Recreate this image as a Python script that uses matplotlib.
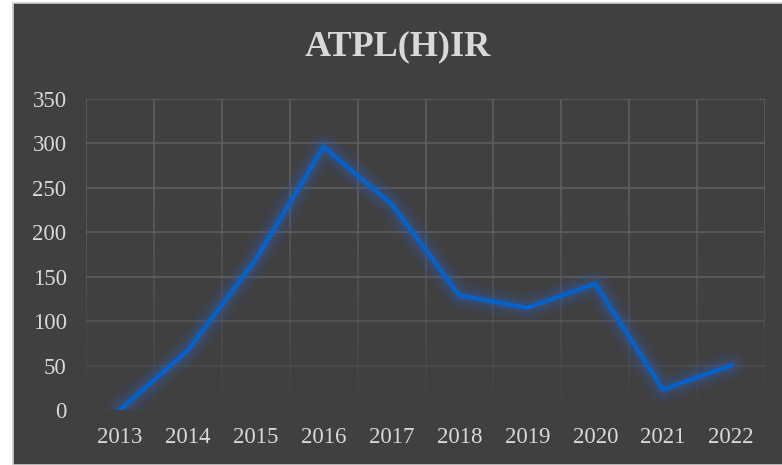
import numpy as np
import matplotlib.pyplot as plt
from matplotlib.collections import LineCollection
from matplotlib.patches import Rectangle

years = ["2013", "2014", "2015", "2016", "2017", "2018", "2019", "2020", "2021", "2022"]
counts = [0, 67, 169, 296, 232, 129, 115, 142, 23, 50]
yticks = [0, 50, 100, 150, 200, 250, 300, 350]

bg = "#404040"
grid_col = "#5e5e5e"
txt_col = "#d9d9d9"
line_col = "#0562c9"

fig = plt.figure(figsize=(7.82, 4.65), dpi=100, facecolor="white")
fig.patches.append(Rectangle((13 / 782, 0), 1, 1 - 3 / 465, transform=fig.transFigure,
                             facecolor=bg, edgecolor="#d0d0d0", linewidth=1.2, zorder=-10))

ax = fig.add_axes([86 / 782, 1 - 410 / 465, (765 - 86) / 782, (410 - 99) / 465])
ax.set_zorder(1)
ax.set_facecolor("none")
x = np.arange(len(years))
ax.set_xlim(-0.5, len(years) - 0.5)
ax.set_ylim(0, 350)

# grid that fades out toward the bottom
ymax = 350
for yv in yticks:
    a = min(1.0, 0.15 + 0.85 * yv / 150)
    ax.axhline(yv, color=grid_col, lw=1.2, alpha=a, zorder=1)
steps = np.linspace(0, ymax, 71)
for xv in np.arange(-0.5, len(years), 1.0):
    segs = [[(xv, steps[i]), (xv, steps[i + 1])] for i in range(len(steps) - 1)]
    mids = (steps[:-1] + steps[1:]) / 2
    alphas = np.clip(0.05 + 0.95 * mids / 250, 0, 1)
    cols = [(0x5e / 255, 0x5e / 255, 0x5e / 255, a) for a in alphas]
    ax.add_collection(LineCollection(segs, colors=cols, linewidths=1.2, zorder=1))

# glow
for lw, al in [(22, 0.06), (17, 0.08), (12, 0.12), (8, 0.18)]:
    ax.plot(x, counts, color="#3060b8", lw=lw, alpha=al, solid_joinstyle="round",
            solid_capstyle="round", zorder=2)
ax.plot(x, counts, color=line_col, lw=3.2, solid_joinstyle="miter", zorder=3)

for s in ax.spines.values():
    s.set_visible(False)
ax.set_xticks(x)
ax.set_xticklabels(years)
ax.set_yticks(yticks)
ax.tick_params(length=0, colors=txt_col, labelsize=16.5, pad=12)
ax.tick_params(axis="y", pad=14)
for lab in ax.get_xticklabels() + ax.get_yticklabels():
    lab.set_fontfamily("Liberation Serif")
for lab in ax.get_yticklabels():
    lab.set_horizontalalignment("right")

fig.text(0.5 + 13 / 782 / 2, 1 - 47 / 465, "ATPL(H)IR", ha="center", va="center",
         fontsize=26, fontweight="bold", color=txt_col, family="Liberation Serif")

fig.savefig("out.png", dpi=100, facecolor="white")
